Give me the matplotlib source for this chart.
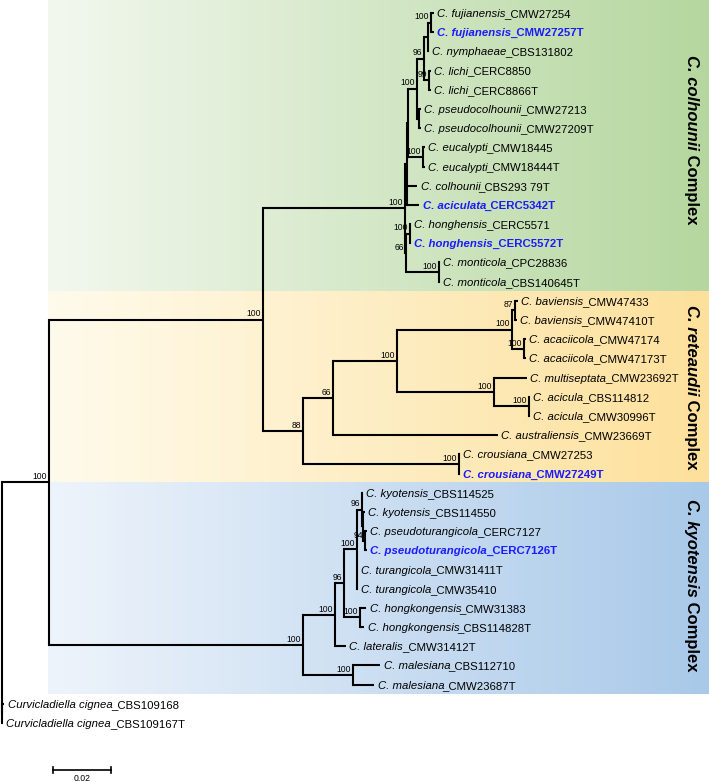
import matplotlib.pyplot as plt
import numpy as np
from matplotlib.colors import LinearSegmentedColormap

plt.rcParams['font.family'] = ['Liberation Sans', 'DejaVu Sans']

W, H = 709, 782
PX = 2900.0      # pixels per substitution/site (0.02 -> 58 px)
STEP = 19.19     # pixels between tips
TOP = 13.0       # pixel row of the first tip

# tips, top to bottom
species = ['C. fujianensis', 'C. fujianensis', 'C. nymphaeae', 'C. lichi', 'C. lichi',
           'C. pseudocolhounii', 'C. pseudocolhounii', 'C. eucalypti', 'C. eucalypti',
           'C. colhounii', 'C. aciculata', 'C. honghensis', 'C. honghensis',
           'C. monticola', 'C. monticola',
           'C. baviensis', 'C. baviensis', 'C. acaciicola', 'C. acaciicola',
           'C. multiseptata', 'C. acicula', 'C. acicula', 'C. australiensis',
           'C. crousiana', 'C. crousiana',
           'C. kyotensis', 'C. kyotensis', 'C. pseudoturangicola', 'C. pseudoturangicola',
           'C. turangicola', 'C. turangicola', 'C. hongkongensis', 'C. hongkongensis',
           'C. lateralis', 'C. malesiana', 'C. malesiana',
           'Curvicladiella cignea', 'Curvicladiella cignea']
strains = ['CMW27254', 'CMW27257T', 'CBS131802', 'CERC8850', 'CERC8866T',
           'CMW27213', 'CMW27209T', 'CMW18445', 'CMW18444T',
           'CBS293 79T', 'CERC5342T', 'CERC5571', 'CERC5572T',
           'CPC28836', 'CBS140645T',
           'CMW47433', 'CMW47410T', 'CMW47174', 'CMW47173T',
           'CMW23692T', 'CBS114812', 'CMW30996T', 'CMW23669T',
           'CMW27253', 'CMW27249T',
           'CBS114525', 'CBS114550', 'CERC7127', 'CERC7126T',
           'CMW31411T', 'CMW35410', 'CMW31383', 'CBS114828T',
           'CMW31412T', 'CBS112710', 'CMW23687T',
           'CBS109168', 'CBS109167T']
new_taxa = [1, 10, 12, 24, 28]

# trees: tip index:branch length, internal nodes carry bootstrap support
colhounii_nwk = ("(((((((0:0.00103,1:0.00103)100:0.00103,2:0.00034):0.00138,"
                 "(3:0.00069,4:0.00069)99:0.00172)96:0.00241,(5:0.00069,6:0.00069):0.00069)100:0.0031,"
                 "(7:0.00069,8:0.00069)100:0.00517):0.00034,9:0.00345,10:0.00414):0.00069,"
                 "((11:0.00034,12:0.00034)100:0.00138,(13:0.00034,14:0.00034)100:0.01138)66:0.00034)100:0.04897")
reteaudii_nwk = ("(((((15:0.00103,16:0.00069)87:0.00103,(17:0.00069,18:0.00069)100:0.00414)100:0.03966,"
                 "(19:0.01138,(20:0.00034,21:0.00034)100:0.01207)100:0.03345)100:0.02207,22:0.0569)66:0.01034,"
                 "(23:0.00034,24:0.00034)100:0.05379)88:0.01379")
kyotensis_nwk = ("(((((25:0.00034,(26:0.00069,(27:0.00069,28:0.00069)94:0.00069):0.00034)96:0.00172,"
                 "29:0.00034,30:0.00034)100:0.00448,(31:0.00207,32:0.00138)100:0.00552)96:0.0031,"
                 "33:0.00379)100:0.01103,(34:0.00931,35:0.00724)100:0.01724)100:0.08759")
outgroup_nwk = "(36:0.00086,37:0.00034):0.00017"
tree_nwk = ("(((" + colhounii_nwk + "," + reteaudii_nwk + ")100:0.07379," + kyotensis_nwk +
            ")100:0.01638," + outgroup_nwk + ");")

complexes = [('C. colhounii', 0, 14), ('C. reteaudii', 15, 24), ('C. kyotensis', 25, 35)]
band_colors = [('#f3f8ef', '#b5d79f'), ('#fffbec', '#fde09b'), ('#eef4fb', '#a9c9e9')]
highlight = '#1a1aff'


def parse(s):
    pos = 0

    def node():
        nonlocal pos
        n = {'children': [], 'label': '', 'bl': 0.0}
        if s[pos] == '(':
            pos += 1
            while True:
                n['children'].append(node())
                if s[pos] == ',':
                    pos += 1
                else:
                    break
            pos += 1
        start = pos
        while s[pos] not in ':,();':
            pos += 1
        n['label'] = s[start:pos]
        if s[pos] == ':':
            pos += 1
            start = pos
            while s[pos] not in ',();':
                pos += 1
            n['bl'] = float(s[start:pos])
        return n
    return node()


def layout(n, x0):
    n['x'] = x0 + n['bl']
    if n['children']:
        for c in n['children']:
            layout(c, n['x'])
        n['y'] = (n['children'][0]['y'] + n['children'][-1]['y']) / 2
    else:
        n['y'] = int(n['label'])


root = parse(tree_nwk)
layout(root, 0.0)

fig = plt.figure(figsize=(W / 100, H / 100), dpi=100)
ax = fig.add_axes([0, 0, 1, 1])
xmin, xmax = -1.5 / PX, (W - 1.5) / PX
ymin, ymax = -TOP / STEP, (H - TOP) / STEP
ax.set_xlim(xmin, xmax)
ax.set_ylim(ymax, ymin)
ax.set_autoscale_on(False)
ax.axis('off')
r = fig.canvas.get_renderer()

# coloured clade bands
band_left = root['children'][0]['x'] - 0.6 / PX
for (name, a, b), (c0, c1) in zip(complexes, band_colors):
    top = a - 0.5 if a > 0 else ymin
    cmap = LinearSegmentedColormap.from_list(name, [c0, c1])
    ax.imshow(np.linspace(0, 1, 256)[None, :], cmap=cmap, aspect='auto',
              extent=[band_left, xmax, b + 0.5, top], zorder=0, interpolation='bilinear')

lw = 1.5


def draw(n):
    if not n['children']:
        return
    ys = [c['y'] for c in n['children']]
    ax.plot([n['x'], n['x']], [min(ys), max(ys)], color='black', lw=lw,
            solid_capstyle='projecting', zorder=2)
    for c in n['children']:
        ax.plot([n['x'], c['x']], [c['y'], c['y']], color='black', lw=lw,
                solid_capstyle='butt', zorder=2)
        draw(c)
    if n['label']:
        ax.text(n['x'] - 2 / PX, n['y'] - 1.2 / STEP, n['label'], fontsize=6.2,
                ha='right', va='bottom', zorder=3)


draw(root)


def put_parts(x, y, parts, rotation=0, kern=0.0, **kw):
    texts = []
    for s, style, weight in parts:
        t = ax.text(x, y, s, style=style, weight=weight, rotation=rotation,
                    rotation_mode='anchor', ha='left', va='center_baseline', zorder=4, **kw)
        bb = t.get_window_extent(r)
        if rotation == 0:
            x = ax.transData.inverted().transform((bb.x1 - kern, 0))[0]
        else:
            y = ax.transData.inverted().transform((0, bb.y0 + kern))[1]
        texts.append(t)
    return texts


def tips(n):
    if n['children']:
        out = []
        for c in n['children']:
            out += tips(c)
        return out
    return [n]


for t in tips(root):
    i = int(t['label'])
    x = t['x'] + 3.5 / PX
    if i in new_taxa:
        put_parts(x, i, [(species[i], 'italic', 'bold'), ('_' + strains[i], 'normal', 'bold')],
                  kern=1.5, fontsize=8.2, color=highlight)
    else:
        put_parts(x, i, [(species[i], 'italic', 'normal'), ('_' + strains[i], 'normal', 'normal')],
                  kern=1.5, fontsize=8.2, color='black')

# complex names, rotated, centred on their bands
label_mid = [6.6, 19.5, 29.8]
for (name, a, b), ym in zip(complexes, label_mid):
    xs = (W - 16) / PX - 1.5 / PX
    ts = put_parts(xs, 0, [(name, 'italic', 'bold'), (' Complex', 'normal', 'bold')],
                   rotation=270, fontsize=12, color='black')
    b0 = ts[0].get_window_extent(r)
    b1 = ts[-1].get_window_extent(r)
    mid_disp = (b0.y1 + b1.y0) / 2
    mid = ax.transData.inverted().transform((0, mid_disp))[1]
    shift = ym - mid
    for t in ts:
        px_, py_ = t.get_position()
        t.set_position((px_, py_ + shift))

# scale bar
sb_x = (53 - 1.5) / PX
sb_y = (770 - TOP) / STEP
ax.plot([sb_x, sb_x + 0.02], [sb_y, sb_y], color='black', lw=1.2)
for xx in (sb_x, sb_x + 0.02):
    ax.plot([xx, xx], [sb_y - 3 / STEP, sb_y + 3 / STEP], color='black', lw=1.2)
ax.text(sb_x + 0.01, sb_y + 4 / STEP, '0.02', fontsize=6.2, ha='center', va='top')

fig.savefig('out.png', dpi=100)
